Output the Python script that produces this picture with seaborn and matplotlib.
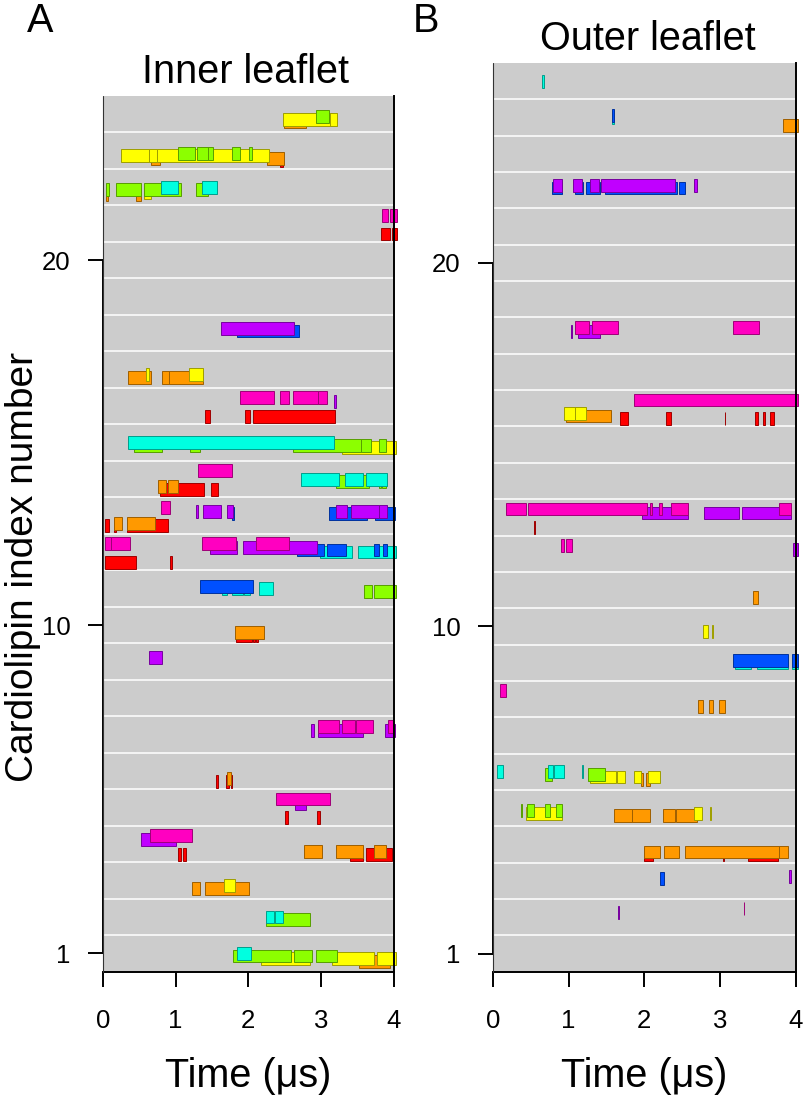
import matplotlib
matplotlib.use("Agg")
import matplotlib.pyplot as plt
import matplotlib.colors as mcolors
import numpy as np
import pandas as pd
import seaborn as sns

# Cardiolipin binding events, one list per binding site (colour).
# Each entry: (cardiolipin index, start in us, end in us)

# ---- inner leaflet (A) ----
inner_red = [(21, 3.82, 3.95), (21, 3.97, 4.04), (23, 2.44, 2.47),
             (16, 1.40, 1.47), (16, 1.96, 2.02), (16, 2.07, 3.19),
             (14, 0.79, 1.39), (14, 1.49, 1.59),
             (13, 0.03, 0.08), (13, 0.15, 0.18), (13, 0.34, 0.89),
             (12, 0.03, 0.46), (12, 0.92, 0.95),
             (10, 1.83, 2.05), (10, 2.07, 2.09), (10, 2.11, 2.13),
             (6, 1.56, 1.58), (6, 1.69, 1.73), (6, 1.76, 1.78),
             (5, 2.51, 2.55), (5, 2.94, 2.99),
             (4, 1.03, 1.07), (4, 1.10, 1.14), (4, 3.40, 3.57), (4, 3.62, 3.97)]
inner_orange = [(24, 2.49, 2.79), (23, 0.66, 0.79), (23, 2.25, 2.49),
                (22, 0.04, 0.07), (22, 0.46, 0.52),
                (17, 0.35, 0.67), (17, 0.81, 0.91), (17, 0.91, 1.38),
                (14, 0.76, 0.87), (14, 0.89, 1.04),
                (13, 0.16, 0.27), (13, 0.33, 0.72),
                (10, 1.82, 2.22), (6, 1.71, 1.76),
                (4, 2.76, 3.01), (4, 3.20, 3.57), (4, 3.73, 3.89),
                (3, 1.22, 1.34), (3, 1.40, 2.01), (1, 3.52, 3.95)]
inner_yellow = [(24, 2.47, 3.15), (24, 3.12, 3.22),
                (23, 0.25, 0.64), (23, 0.64, 0.74), (23, 0.74, 2.29),
                (22, 0.57, 0.67), (17, 0.60, 0.64), (17, 1.18, 1.38),
                (15, 3.28, 4.03), (3, 1.67, 1.81),
                (1, 2.18, 2.84), (1, 3.15, 3.72), (1, 3.76, 4.03)]
inner_green = [(24, 2.93, 3.11),
               (23, 1.04, 1.27), (23, 1.30, 1.44), (23, 1.44, 1.52), (23, 1.77, 1.89), (23, 2.01, 2.05),
               (22, 0.04, 0.09), (22, 0.18, 0.52), (22, 0.57, 1.07), (22, 1.28, 1.44),
               (15, 0.43, 0.82), (15, 1.20, 1.33), (15, 2.61, 3.54), (15, 3.54, 3.69), (15, 3.80, 3.89),
               (14, 3.20, 3.65), (14, 3.80, 3.82), (14, 3.84, 3.89),
               (11, 3.59, 3.70), (11, 3.73, 4.03), (2, 2.24, 2.85),
               (1, 1.79, 2.58), (1, 2.62, 2.87), (1, 2.93, 3.22)]
inner_cyan = [(22, 0.80, 1.04), (22, 1.36, 1.57), (15, 0.35, 3.17),
              (14, 2.72, 3.25), (14, 3.33, 3.57), (14, 3.61, 3.90),
              (12, 2.99, 3.43), (12, 3.50, 4.03),
              (11, 1.64, 1.70), (11, 1.78, 1.92), (11, 1.94, 2.02), (11, 2.15, 2.34),
              (2, 2.24, 2.35), (2, 2.36, 2.48), (1, 1.84, 2.03)]
inner_blue = [(18, 1.85, 2.69), (13, 1.78, 1.80), (13, 3.11, 3.63), (13, 3.74, 4.02),
              (12, 2.67, 3.04), (12, 3.08, 3.34), (12, 3.72, 3.79), (12, 3.85, 3.91),
              (11, 1.33, 2.06)]
inner_purple = [(18, 1.62, 2.62), (16, 3.18, 3.20),
                (13, 1.28, 1.31), (13, 1.38, 1.62), (13, 1.71, 1.79),
                (13, 3.20, 3.36), (13, 3.41, 3.79), (13, 3.80, 3.91),
                (12, 1.47, 1.85), (12, 1.93, 2.94), (9, 0.64, 0.82),
                (7, 2.86, 2.90), (7, 2.95, 3.58), (7, 3.88, 4.02),
                (5, 2.64, 2.79), (4, 0.52, 1.01)]
inner_magenta = [(21, 3.83, 3.92), (21, 3.94, 4.04),
                 (16, 1.89, 2.35), (16, 2.44, 2.56), (16, 2.61, 2.96), (16, 2.96, 3.08),
                 (14, 1.31, 1.77), (13, 0.80, 0.92),
                 (12, 0.03, 0.12), (12, 0.12, 0.38), (12, 1.36, 1.83), (12, 2.11, 2.56),
                 (7, 2.96, 3.24), (7, 3.29, 3.47), (7, 3.48, 3.71), (7, 3.92, 3.98),
                 (5, 2.38, 3.12), (4, 0.65, 1.22)]

# ---- outer leaflet (B) ----
outer_red = [(16, 1.68, 1.78), (16, 2.29, 2.35), (16, 3.06, 3.07),
             (16, 3.46, 3.50), (16, 3.56, 3.59), (16, 3.66, 3.71),
             (13, 0.55, 0.56), (4, 1.99, 2.11), (4, 3.04, 3.05), (4, 3.37, 3.76)]
outer_orange = [(24, 3.83, 4.03), (16, 0.97, 1.56), (11, 3.43, 3.50),
                (8, 2.71, 2.78), (8, 2.85, 2.90), (8, 2.99, 3.06),
                (6, 1.95, 1.98), (6, 2.02, 2.08),
                (5, 1.60, 1.84), (5, 1.84, 2.08), (5, 2.25, 2.40), (5, 2.42, 2.70),
                (4, 2.00, 2.20), (4, 2.26, 2.46), (4, 2.54, 3.78), (4, 3.78, 3.89)]
outer_yellow = [(16, 0.94, 1.09), (16, 1.09, 1.23), (10, 2.78, 2.84), (10, 2.89, 2.91),
                (6, 1.28, 1.62), (6, 1.64, 1.75), (6, 1.86, 1.95), (6, 2.05, 2.20),
                (5, 0.44, 0.92), (5, 2.66, 2.76), (5, 2.86, 2.88)]
outer_green = [(6, 0.69, 0.78), (6, 1.26, 1.48),
               (5, 0.37, 0.38), (5, 0.45, 0.55), (5, 0.69, 0.75), (5, 0.84, 0.92)]
outer_cyan = [(25, 0.65, 0.68), (24, 1.57, 1.60),
              (9, 3.20, 3.40), (9, 3.48, 3.89), (9, 3.95, 4.03),
              (6, 0.06, 0.14), (6, 0.73, 0.79), (6, 0.81, 0.94), (6, 1.18, 1.19)]
outer_blue = [(24, 1.57, 1.60),
              (22, 0.78, 0.92), (22, 1.09, 1.19), (22, 1.23, 1.41), (22, 1.48, 2.43), (22, 2.46, 2.54),
              (9, 3.17, 3.89), (9, 3.95, 4.03), (3, 2.21, 2.26)]
outer_purple = [(22, 0.79, 0.92), (22, 1.06, 1.18), (22, 1.28, 1.40), (22, 1.43, 2.41), (22, 2.65, 2.70),
                (18, 1.03, 1.05), (18, 1.13, 1.42),
                (13, 1.97, 2.58), (13, 2.79, 3.25), (13, 3.29, 3.94),
                (12, 3.96, 4.03), (3, 3.91, 3.93), (2, 1.65, 1.67)]
outer_magenta = [(18, 1.09, 1.27), (18, 1.31, 1.65), (18, 3.17, 3.51), (16, 1.86, 4.03),
                 (13, 0.18, 0.44), (13, 0.46, 2.04), (13, 2.07, 2.10), (13, 2.19, 2.23),
                 (13, 2.35, 2.58), (13, 3.77, 3.94),
                 (12, 0.90, 0.94), (12, 0.97, 1.04), (8, 0.10, 0.18), (2, 3.31, 3.32)]

sites = ["red", "orange", "yellow", "green", "cyan", "blue", "purple", "magenta"]
y_ticks = [1, 10, 20]
x_ticks = [0, 1, 2, 3, 4]

# style: fill colour and vertical shift inside a row for each site
site_fill = {"red": "#ff0000", "orange": "#ff9900", "yellow": "#ffff00", "green": "#8cff00",
             "cyan": "#00ffe0", "blue": "#0050ff", "purple": "#c000ff", "magenta": "#ff00c0"}
site_shift = {"red": -0.28, "orange": -0.21, "yellow": -0.14, "green": -0.07,
              "cyan": 0.0, "blue": 0.06, "purple": 0.12, "magenta": 0.23}


def to_frame(lists):
    recs = []
    for site, events in zip(sites, lists):
        for idx, t0, t1 in events:
            recs.append({"site": site, "cl": idx, "start": t0, "end": t1})
    return pd.DataFrame(recs)


inner = to_frame([inner_red, inner_orange, inner_yellow, inner_green,
                  inner_cyan, inner_blue, inner_purple, inner_magenta])
outer = to_frame([outer_red, outer_orange, outer_yellow, outer_green,
                  outer_cyan, outer_blue, outer_purple, outer_magenta])

sns.set_theme(style="white")
plt.rcParams["font.family"] = ["Liberation Sans", "DejaVu Sans"]
plt.rcParams["text.color"] = "black"

W, H = 805, 1095
fig = plt.figure(figsize=(W / 100, H / 100), dpi=100)


def px_axes(l, t, r, b):
    return fig.add_axes([l / W, 1 - b / H, (r - l) / W, (b - t) / H])


def draw(ax, df, n_rows):
    ax.set_facecolor("#cccccc")
    for k in range(1, n_rows):
        ax.axhline(k + 0.5, color="white", lw=1.1, zorder=1)
    for site in sites:
        d = df[df["site"] == site]
        edge = np.array(mcolors.to_rgb(site_fill[site])) * 0.62
        ax.barh(d["cl"] + site_shift[site], d["end"] - d["start"], left=d["start"],
                height=0.35, color=site_fill[site], edgecolor=edge, linewidth=0.7,
                zorder=2, clip_on=False)
    ax.set_xlim(0, 4)
    ax.set_ylim(0.5, n_rows + 0.5)
    ax.set_xticks(x_ticks)
    ax.set_yticks(y_ticks)
    ax.tick_params(axis="both", which="both", direction="out", length=11, width=1.4,
                   color="black", labelsize=18.5, labelcolor="black", left=True, bottom=True)
    ax.tick_params(axis="x", pad=16)
    ax.tick_params(axis="y", pad=12)
    ax.grid(False)
    for s in ["bottom", "right", "left"]:
        ax.spines[s].set_visible(True)
        ax.spines[s].set_color("black")
        ax.spines[s].set_linewidth(1.4)
    ax.spines["top"].set_visible(False)
    ax.spines["left"].set_bounds(1, 20)
    ax.axvline(0, color="#333333", lw=0.8, zorder=3, clip_on=False)


axA = px_axes(102.7, 96, 394, 971.7)
axB = px_axes(492.7, 63, 796, 971.7)
draw(axA, inner, 24)
draw(axB, outer, 25)

fs = 28.5
fig.text(26.7 / W, 1 - 31.7 / H, "A", fontsize=fs, va="baseline", ha="left")
fig.text(413 / W, 1 - 31.7 / H, "B", fontsize=fs, va="baseline", ha="left")
fig.text(245 / W, 1 - 83.3 / H, "Inner leaflet", fontsize=fs, va="baseline", ha="center")
fig.text(648 / W, 1 - 50 / H, "Outer leaflet", fontsize=fs, va="baseline", ha="center")
fig.text(248.3 / W, 1 - 1087 / H, "Time (μs)", fontsize=fs, va="baseline", ha="center")
fig.text(644.4 / W, 1 - 1087 / H, "Time (μs)", fontsize=fs, va="baseline", ha="center")
fig.text(33.5 / W, 1 - 567 / H, "Cardiolipin index number", fontsize=28, rotation=90,
         rotation_mode="anchor", va="baseline", ha="center")

fig.savefig("out.png", dpi=100)
